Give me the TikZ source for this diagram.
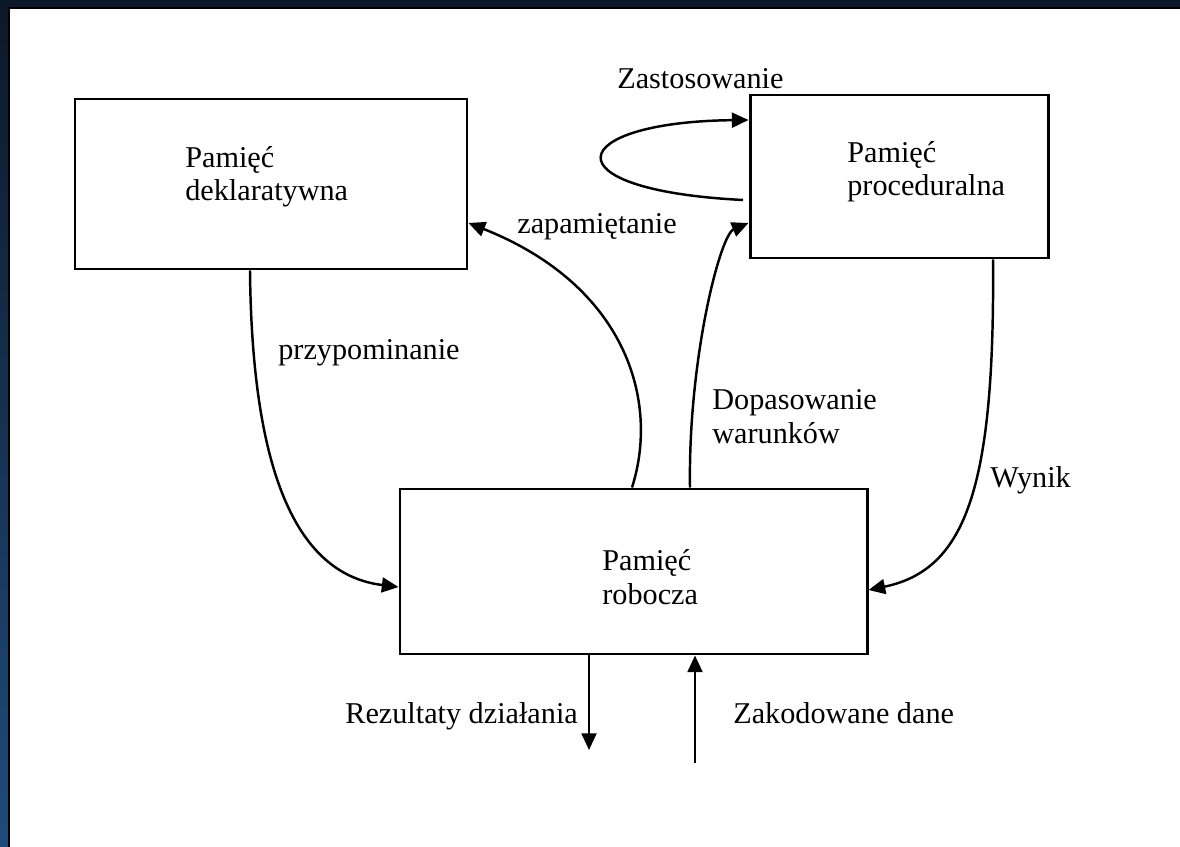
\documentclass[tikz,border=0pt]{standalone}
\usepackage{fontspec}
\setmainfont{Liberation Serif}
\usetikzlibrary{arrows.meta,fit,calc}
\definecolor{navytop}{RGB}{12,24,40}
\definecolor{navybot}{RGB}{31,75,122}
\begin{document}
\begin{tikzpicture}[x=0.02cm,y=-0.02cm,
  boxst/.style={draw=black, line width=1.7pt, inner sep=0pt, fill=white},
  conn/.style={line width=1.4pt, -{Triangle[length=9.5pt,width=8.5pt]}},
  lbl/.style={inner sep=0pt, font=\fontsize{17.2}{20.5}\selectfont, anchor=base west}]
\useasboundingbox (0,0) rectangle (1180,847);
\fill[white] (0,0) rectangle (1180,847);
\shade[top color=navytop, bottom color=navybot] (0,0) rectangle (8,847);
\fill[navytop] (0,0) rectangle (1180,7);
\fill[black] (8,7) rectangle (10,847);
\fill[black] (8,7) rectangle (1180,9);

\node[boxst, fit={(75,99)(467,269)}] (decl) {};
\node[boxst, fit={(750,95)(1048,258)}] (proc) {};
\node[boxst, fit={(400,489)(867,654)}] (work) {};

\node[lbl] (d1) at (185,168) {Pamięć};
\node[lbl] (d2) at (185,201) {deklaratywna};
\node[lbl] (p1) at (847,163) {Pamięć};
\node[lbl] (p2) at (847,196) {proceduralna};
\node[lbl] (w1) at (602,571) {Pamięć};
\node[lbl] (w2) at (602,604) {robocza};

\node[lbl] (lzast) at (617,89) {Zastosowanie};
\node[lbl] (lzap) at (517,234) {zapamiętanie};
\node[lbl] (lprzy) at (278,360) {przypominanie};
\node[lbl] (ldop1) at (712,410) {Dopasowanie};
\node[lbl] (ldop2) at (712,444) {warunków};
\node[lbl] (lwyn) at (990,488) {Wynik};
\node[lbl] (lrez) at (345,723) {Rezultaty działania};
\node[lbl] (lzak) at (733,723) {Zakodowane dane};

\draw[conn] (250,0 |- decl.south) .. controls (252,480) and (300,575) .. (work.west |- 0,587);
\draw[conn] (632,0 |- work.north) .. controls (660,400) and (625,285) .. (decl.east |- 0,223);
\draw[conn] (690,0 |- work.north) .. controls (688,360) and (720,235) .. (proc.west |- 0,223);
\draw[conn] (993,0 |- proc.south) .. controls (995,490) and (965,570) .. (work.east |- 0,590);
\coordinate (loopstart) at (743,200);
\draw[conn] (loopstart) .. controls (545,190) and (565,122) .. (proc.west |- 0,120);
\coordinate (outend) at (589,750);
\draw[conn] (589,0 |- work.south) -- (outend);
\coordinate (instart) at (695,763);
\draw[conn] (instart) -- (695,0 |- work.south);
\end{tikzpicture}
\end{document}
